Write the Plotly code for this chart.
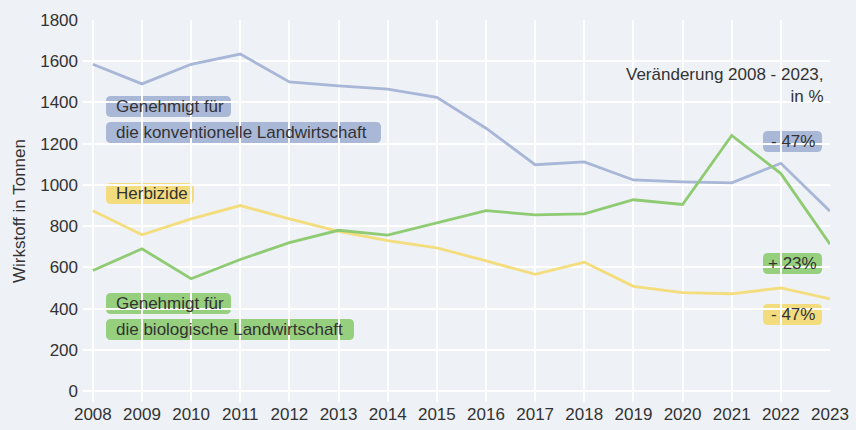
import plotly.graph_objects as go

years = list(range(2008, 2024))
konventionell = [1585, 1490, 1585, 1635, 1500, 1480, 1465, 1425, 1275, 1098, 1112, 1024, 1015, 1010, 1105, 872]
biologisch = [585, 690, 545, 638, 720, 780, 757, 815, 875, 855, 860, 928, 905, 1240, 1055, 712]
herbizide = [875, 758, 835, 900, 835, 775, 730, 695, 632, 566, 625, 508, 478, 472, 500, 447]

series_names = ["Genehmigt für die konventionelle Landwirtschaft", "Herbizide",
                "Genehmigt für die biologische Landwirtschaft"]
changes = ["- 47%", "- 47%", "+ 23%"]
y_ticks = [0, 200, 400, 600, 800, 1000, 1200, 1400, 1600, 1800]

BLUE = "#a8b6d7"
GREEN = "#8fcb73"
YELLOW = "#f3dd7c"
BLUE_BOX = "#aab8d8"
GREEN_BOX = "#96cf7e"
YELLOW_BOX = "#f2dc7e"
TEXT = "#333333"
BG = "#eef1f6"
FONT = "Liberation Sans, Arial, sans-serif"
FS = 17

fig = go.Figure()
for vals, col, name in [(konventionell, BLUE, series_names[0]),
                        (herbizide, YELLOW, series_names[1]),
                        (biologisch, GREEN, series_names[2])]:
    fig.add_trace(go.Scatter(x=years, y=vals, mode="lines", name=name,
                             line=dict(color=col, width=2.8), showlegend=False))

# plot area in pixels
L, R, T, B = 83, 830, 20, 402
W, H = R - L, B - T

def px2paper(x, y):
    return (x - L) / W, (B - y) / H

def rounded_box(x0, y0, x1, y1, color, r=5):
    def p(x, y):
        px, py = px2paper(x, y)
        return f"{px:.5f},{py:.5f}"
    path = (f"M {p(x0 + r, y0)} L {p(x1 - r, y0)} Q {p(x1, y0)} {p(x1, y0 + r)} "
            f"L {p(x1, y1 - r)} Q {p(x1, y1)} {p(x1 - r, y1)} "
            f"L {p(x0 + r, y1)} Q {p(x0, y1)} {p(x0, y1 - r)} "
            f"L {p(x0, y0 + r)} Q {p(x0, y0)} {p(x0 + r, y0)} Z")
    fig.add_shape(type="path", path=path, xref="paper", yref="paper",
                  fillcolor=color, line=dict(width=0), layer="between")

def label(x0, y0, x1, y1, color, text, align="left"):
    rounded_box(x0, y0, x1, y1, color)
    if align == "left":
        px, py = px2paper(x0 + 8, (y0 + y1) / 2)
        xa = "left"
    else:
        px, py = px2paper((x0 + x1) / 2, (y0 + y1) / 2)
        xa = "center"
    fig.add_annotation(x=px, y=py, xref="paper", yref="paper", text=text,
                       showarrow=False, xanchor=xa, yanchor="middle",
                       font=dict(size=FS, color=TEXT, family=FONT))

label(106, 96, 231, 117, BLUE_BOX, "Genehmigt für")
label(106, 122, 381, 143, BLUE_BOX, "die konventionelle Landwirtschaft")
label(106, 183, 194, 204, YELLOW_BOX, series_names[1])
label(106, 293, 231, 314, GREEN_BOX, "Genehmigt für")
label(106, 319, 354, 340, GREEN_BOX, "die biologische Landwirtschaft")
label(763, 131, 822, 152, BLUE_BOX, changes[0], align="center")
label(763, 253, 822, 274, GREEN_BOX, changes[2], align="center")
label(763, 304, 822, 325, YELLOW_BOX, changes[1], align="center")

px, py = px2paper(826, 85)
fig.add_annotation(x=px, y=py, xref="paper", yref="paper",
                   text="Veränderung 2008 - 2023,<br>in %", showarrow=False,
                   xanchor="right", yanchor="middle", align="right",
                   font=dict(size=FS, color=TEXT, family=FONT))

fig.update_layout(
    width=856, height=430,
    margin=dict(l=L, r=856 - R, t=T, b=430 - B, autoexpand=False),
    paper_bgcolor=BG, plot_bgcolor=BG,
    font=dict(family=FONT, size=FS, color=TEXT),
    xaxis=dict(range=[2007.8, 2023.0], tickmode="array", tickvals=years,
               showgrid=True, gridcolor="#ffffff", gridwidth=1.5, zeroline=False,
               showline=False, ticks="", automargin=False,
               tickfont=dict(size=FS, color=TEXT)),
    yaxis=dict(range=[-53, 1800], tickmode="array", tickvals=y_ticks,
               showgrid=True, gridcolor="#ffffff", gridwidth=1.5, zeroline=False,
               showline=False, ticks="", ticklabelstandoff=4, automargin=False,
               tickfont=dict(size=FS, color=TEXT),
               title=dict(text="Wirkstoff in Tonnen", standoff=10,
                          font=dict(size=FS, color=TEXT))),
)

fig.write_html("out.html", config={"displayModeBar": False},
               post_script="document.body.style.margin='0';document.body.style.background='%s';" % BG)
